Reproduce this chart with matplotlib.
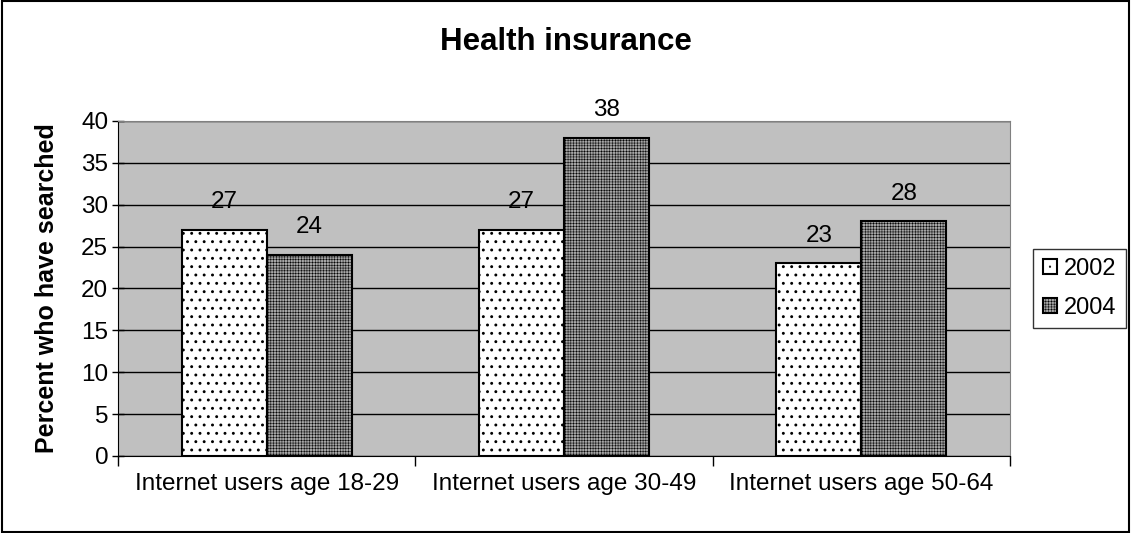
import numpy as np
import matplotlib.pyplot as plt
from matplotlib.patches import Rectangle

categories = ["Internet users age 18-29", "Internet users age 30-49", "Internet users age 50-64"]
years = ["2002", "2004"]
values_2002 = [27, 27, 23]
values_2004 = [24, 38, 28]

plt.rcParams['font.family'] = ['Liberation Sans', 'DejaVu Sans']

fig = plt.figure(figsize=(11.31, 5.33), dpi=100)
ax = fig.add_axes([0.1043, 0.1445, 0.7887, 0.6285])
ax.set_facecolor('#c0c0c0')

x = np.arange(len(categories))
w = 1 / 3.5
plt.rcParams['hatch.linewidth'] = 0.9
b1 = ax.bar(x - w / 2, values_2002, w, facecolor='white', edgecolor='black',
            hatch='..', linewidth=1.5, zorder=3, label=years[0])
plt.rcParams['hatch.linewidth'] = 0.35
b2 = ax.bar(x + w / 2, values_2004, w, facecolor='#a6a6a6', edgecolor='black',
            hatch='++++++', linewidth=1.5, zorder=3, label=years[1])

for bars in (b1, b2):
    for p in bars:
        h = p.get_height()
        ax.annotate(f"{h:g}", (p.get_x() + p.get_width() / 2, h),
                    xytext=(0, 20), textcoords='offset points',
                    ha='center', va='center', fontsize=17.5)

ax.set_xlim(-0.5, 2.5)
ax.set_ylim(0, 40)
ax.set_yticks(range(0, 41, 5))
ax.yaxis.grid(True, color='black', linewidth=1, zorder=0)
ax.set_axisbelow(True)
ax.tick_params(axis='y', labelsize=17.5, length=8, direction='inout', width=1, pad=3)
ax.set_xticks([-0.5, 0.5, 1.5, 2.5])
ax.set_xticklabels([])
ax.set_xticks(x, minor=True)
ax.set_xticklabels(categories, minor=True, fontsize=17.5)
ax.tick_params(axis='x', which='major', length=7, direction='out', width=1)
ax.tick_params(axis='x', which='minor', length=0, pad=12)

for s in ['top', 'right']:
    ax.spines[s].set_color('#808080')
ax.spines['left'].set_color('black')
ax.spines['bottom'].set_color('black')

ax.set_ylabel("Percent who have searched", fontsize=18, fontweight='bold', labelpad=16)
fig.text(0.5, 0.921, "Health insurance", ha='center', va='center',
         fontsize=22.5, fontweight='bold')

leg = ax.legend(loc='center left', bbox_to_anchor=(1.026, 0.5), fontsize=17,
                frameon=True, fancybox=False, edgecolor='black',
                handlelength=0.6, handleheight=0.6, handletextpad=0.3,
                borderpad=0.4, labelspacing=0.7, borderaxespad=0)
leg.get_frame().set_linewidth(1)

fig.patches.append(Rectangle((0.002, 0.002), 0.996, 0.996, transform=fig.transFigure,
                             fill=False, edgecolor='black', linewidth=1.5))

fig.savefig("out.png", dpi=100)
